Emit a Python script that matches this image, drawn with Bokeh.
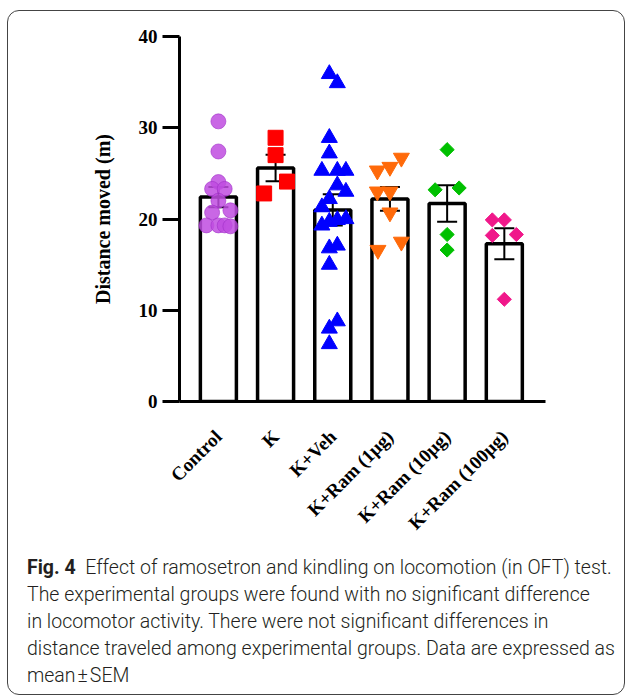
import numpy as np
from bokeh.plotting import figure
from bokeh.models import Range1d, FixedTicker, ColumnDataSource, Div
from bokeh.layouts import column
from bokeh.embed import file_html
from bokeh.resources import INLINE

# ---------------- data ----------------
groups = ["Control", "K", "K+Veh", "K+Ram (1µg)", "K+Ram (10µg)", "K+Ram (100µg)"]
means = [22.4, 25.6, 21.0, 22.2, 21.7, 17.3]
sems = [1.1, 1.45, 1.7, 1.3, 2.0, 1.7]

control_vals = [30.7, 27.4, 24.05, 23.3, 23.3, 22.0, 20.95, 20.7, 19.3, 19.3, 19.3, 19.2]
control_off = [0.0, 0.0, 0.0, -0.11, 0.11, 0.0, 0.21, -0.11, -0.21, 0.0, 0.11, 0.21]

k_vals = [28.9, 27.0, 24.1, 22.8]
k_off = [0.0, 0.0, 0.2, -0.2]

veh_vals = [35.9, 34.9, 28.9, 27.2, 25.3, 25.3, 25.3, 23.7, 23.0, 22.2, 21.3,
            19.3, 19.7, 19.9, 20.0, 16.8, 17.1, 15.0, 8.8, 8.0, 6.3]
veh_off = [-0.06, 0.08, -0.06, -0.06, -0.19, 0.08, 0.23, 0.08, 0.23, -0.06, -0.19,
           -0.19, -0.06, 0.08, 0.23, -0.06, 0.08, -0.06, 0.08, -0.06, -0.06]

r1_vals = [26.7, 25.7, 25.3, 23.0, 23.0, 20.7, 17.5, 16.6]
r1_off = [0.2, 0.0, -0.22, -0.22, 0.0, 0.0, 0.2, -0.21]

r10_vals = [27.6, 23.2, 23.4, 18.3, 16.6]
r10_off = [0.0, -0.21, 0.21, 0.0, 0.0]

r100_vals = [19.9, 19.9, 18.2, 18.3, 11.2]
r100_off = [-0.21, 0.0, -0.21, 0.21, 0.0]

y_ticks = [0, 10, 20, 30, 40]

# ---------------- figure ----------------
FONT = "Liberation Serif"
p = figure(width=616, height=535, x_range=Range1d(-0.68, 5.72), y_range=Range1d(0, 40),
           output_backend="svg", toolbar_location=None,
           min_border_left=171, min_border_right=79, min_border_top=25, min_border_bottom=145)
p.outline_line_color = None
p.xgrid.visible = False
p.ygrid.visible = False
p.background_fill_color = None
p.border_fill_color = None

idx = list(range(len(groups)))

# bars
p.vbar(x=idx, top=means, width=0.63, fill_color="white", line_color="black", line_width=3.5)

# error bars
upper = [m + s for m, s in zip(means, sems)]
lower = [m - s for m, s in zip(means, sems)]
p.segment(x0=idx, y0=lower, x1=idx, y1=upper, line_color="black", line_width=2)
p.scatter(x=idx, y=upper, marker="dash", size=20, line_color="black", line_width=2)
p.scatter(x=idx, y=lower, marker="dash", size=20, line_color="black", line_width=2)

def xs(i, offs):
    return [i + o for o in offs]

p.scatter(xs(0, control_off), control_vals, marker="circle", size=15,
          fill_color="#c04ce0", fill_alpha=0.85, line_color="#a030c8", line_alpha=0.6, line_width=1)
p.scatter(xs(1, k_off), k_vals, marker="square", size=15, fill_color="#ff0000", line_color="#ff0000")
p.scatter(xs(2, veh_off), veh_vals, marker="triangle", size=16, fill_color="#0000ff", line_color="#0000ff")
p.scatter(xs(3, r1_off), r1_vals, marker="inverted_triangle", size=16, fill_color="#ff6a0a", line_color="#ff6a0a")
p.scatter(xs(4, r10_off), r10_vals, marker="square", angle=np.pi / 4, size=10,
          fill_color="#00c000", line_color="#00c000")
p.scatter(xs(5, r100_off), r100_vals, marker="square", angle=np.pi / 4, size=10,
          fill_color="#f0188a", line_color="#f0188a")

# axes
xa = p.xaxis[0]
xa.ticker = FixedTicker(ticks=idx)
xa.major_label_overrides = {i: g for i, g in enumerate(groups)}
xa.major_label_orientation = np.pi / 4
xa.major_label_text_font = FONT
xa.major_label_text_font_style = "bold"
xa.major_label_text_font_size = "19px"
xa.major_label_text_color = "black"
xa.major_tick_line_color = None
xa.minor_tick_line_color = None
xa.axis_line_width = 3
xa.axis_line_color = "black"
xa.major_label_standoff = 26

ya = p.yaxis[0]
ya.ticker = FixedTicker(ticks=y_ticks)
ya.major_label_text_font = FONT
ya.major_label_text_font_style = "bold"
ya.major_label_text_font_size = "19px"
ya.major_label_text_color = "black"
ya.major_tick_line_width = 3
ya.major_tick_line_color = "black"
ya.major_tick_out = 17
ya.major_tick_in = 0
ya.minor_tick_line_color = None
ya.axis_line_width = 3
ya.axis_line_color = "black"
ya.major_label_standoff = 5
ya.axis_label = "Distance moved (m)"
ya.axis_label_text_font = FONT
ya.axis_label_text_font_style = "bold"
ya.axis_label_text_font_size = "20px"
ya.axis_label_text_color = "black"
ya.axis_label_standoff = 22

caption_html = (
    "<span style='font-weight:700'>Fig. 4</span>&nbsp; Effect of ramosetron and kindling on locomotion (in OFT) test.<br>"
    "The experimental groups were found with no significant difference<br>"
    "in locomotor activity. There were not significant differences in<br>"
    "distance traveled among experimental groups. Data are expressed as<br>"
    "mean&#8202;±&#8202;SEM"
)
cap = Div(text=caption_html, width=600,
          styles={"font-family": "Roboto", "font-size": "19.5px", "line-height": "27px",
                  "color": "#231f20", "white-space": "nowrap", "padding-left": "14px",
                  "margin-top": "8px", "font-weight": "300"})

layout = column(p, cap, styles={"border": "1px solid #444", "border-radius": "12px",
                                "margin-left": "7px", "margin-top": "10px"})

open("out.html", "w").write(file_html(layout, INLINE))
